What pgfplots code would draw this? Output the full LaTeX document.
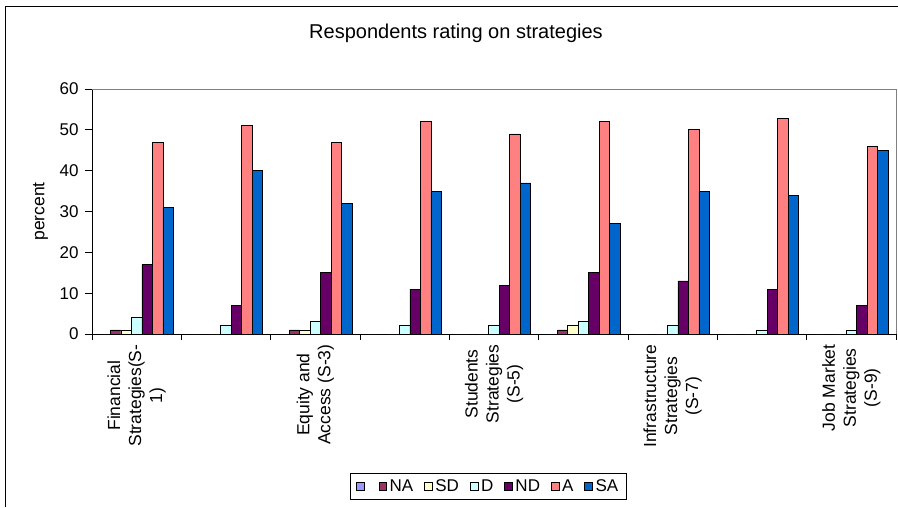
\documentclass[border=0pt]{standalone}
\usepackage{pgfplots}
\usepackage{pgfplotstable}
\pgfplotsset{compat=1.18}
\usepackage{fontspec}
\setmainfont{Liberation Sans}
\definecolor{cLav}{HTML}{9999FF}
\definecolor{cNA}{HTML}{993366}
\definecolor{cSD}{HTML}{FFFFCC}
\definecolor{cD}{HTML}{CCFFFF}
\definecolor{cND}{HTML}{660066}
\definecolor{cA}{HTML}{FF8080}
\definecolor{cSA}{HTML}{0066CC}
\pgfplotsset{sqleg/.style={legend image code/.code={\draw[##1,draw=black,line width=0.6pt] (0pt,-4pt) rectangle (7.5pt,4pt);}}}
\pgfplotstableread{
x L NA SD D ND A SA
1 0 1 1 4 17 47 31
2 0 0 0 2 7 51 40
3 0 1 1 3 15 47 32
4 0 0 0 2 11 52 35
5 0 0 0 2 12 49 37
6 0 1 2 3 15 52 27
7 0 0 0 2 13 50 35
8 0 0 0 1 11 52.7 34
9 0 0 0 1 7 46 45
}\data
\begin{document}
\begin{tikzpicture}[x=1pt,y=1pt]
\useasboundingbox (0,0) rectangle (898,507);
\draw[line width=1pt] (5,0) -- (5,500) -- (898,500);
\node[font=\fontsize{20}{24}\selectfont] at (456,474) {Respondents rating on strategies};
\begin{axis}[
  at={(92pt,173pt)}, anchor=south west,
  scale only axis, width=804pt, height=245pt,
  ybar=0pt, bar width=10.5pt,
  xmin=0.5, xmax=9.5, ymin=0, ymax=60,
  ytick={0,10,...,60},
  xtick={1,3,5,7,9},
  xticklabels={{Financial\\Strategies(S-\\1)},{Equity and\\Access (S-3)},{Students\\Strategies\\(S-5)},{Infrastructure\\Strategies\\(S-7)},{Job Market\\Strategies\\(S-9)}},
  minor xtick={0.5,1.5,...,9.5},
  major x tick style={draw=none},
  tick align=outside,
  major tick length=7pt, minor tick length=6pt,
  tick style={black, line width=0.8pt},
  axis x line*=bottom, axis y line*=left,
  axis line style={-, black, line width=0.8pt},
  ticklabel style={font=\fontsize{17}{20}\selectfont},
  yticklabel style={xshift=-3pt},
  xticklabel style={rotate=90, anchor=east, align=center, font=\fontsize{17.5}{21}\selectfont},
  /pgf/number format/assume math mode=true,
  ylabel={percent},
  ylabel style={at={(axis description cs:-0.064,0.5)}, anchor=center, font=\fontsize{17.5}{21}\selectfont},
  legend columns=7,
  legend style={at={(axis description cs:0.493,-0.622)}, anchor=center, draw=black, line width=0.8pt,
    font=\fontsize{17}{20}\selectfont, /tikz/every even column/.append style={column sep=9pt},
    /tikz/every odd column/.append style={column sep=1pt},
    inner xsep=6pt, inner ysep=4pt},
  clip=false,
]
\addplot[fill=cLav, draw=black, line width=0.8pt, sqleg] table[x=x, y=L] {\data};
\addlegendentry{}
\addplot[fill=cNA, draw=black, line width=0.8pt, sqleg] table[x=x, y=NA] {\data};
\addlegendentry{NA}
\addplot[fill=cSD, draw=black, line width=0.8pt, sqleg] table[x=x, y=SD] {\data};
\addlegendentry{SD}
\addplot[fill=cD, draw=black, line width=0.8pt, sqleg] table[x=x, y=D] {\data};
\addlegendentry{D}
\addplot[fill=cND, draw=black, line width=0.8pt, sqleg] table[x=x, y=ND] {\data};
\addlegendentry{ND}
\addplot[fill=cA, draw=black, line width=0.8pt, sqleg] table[x=x, y=A] {\data};
\addlegendentry{A}
\addplot[fill=cSA, draw=black, line width=0.8pt, sqleg] table[x=x, y=SA] {\data};
\addlegendentry{SA}
\draw[gray, line width=0.8pt] (rel axis cs:0,1) -- (rel axis cs:1,1) -- (rel axis cs:1,0);
\end{axis}
\end{tikzpicture}
\end{document}
